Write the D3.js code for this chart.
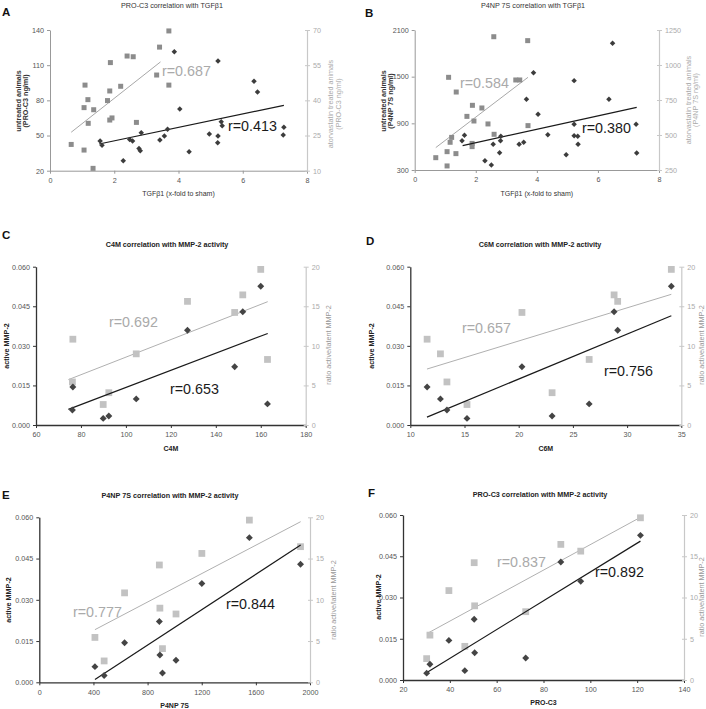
<!DOCTYPE html>
<html><head><meta charset="utf-8">
<script src="https://cdn.jsdelivr.net/npm/d3@7"></script>
<style>
body{margin:0;background:#fff;}
svg{display:block;font-family:"Liberation Sans",Arial,sans-serif;}
</style></head>
<body><svg id="chart" width="706" height="709"></svg>
<script>
// ---------- Panel A: PRO-C3 vs TGFb1 ----------
const aUntreatedX = [3.87,5.23,6.35,6.46,4.04,5.33,5.36,7.28,7.26,4.96,5.23,5.22,3.66,3.56,3.42,2.84,2.48,2.57,2.77,2.81,1.56,1.62,2.28,4.33];
const aUntreatedY = [121.5,113.6,96.2,87.1,72.6,61.8,58.4,57,50.4,51.3,49.6,43.9,55.3,49.6,46.2,52.4,46.7,45.3,39,37.1,45.3,41.6,28.5,36.2];
const aTreatedX = [3.70,3.41,2.40,2.59,1.88,3.32,1.09,2.20,3.70,1.86,1.18,1.79,1.06,1.36,1.93,1.86,1.19,2.69,0.66,1.06,1.34];
const aTreatedY = [69.6,62.7,58.9,58.6,56.1,50.8,46.5,46.0,46.5,44.0,40.3,39.9,36.9,36.0,32.5,31.6,30.2,30.6,21.2,18.8,11.0];
const aUntreatedFitX = [1.53,7.28], aUntreatedFitY = [42.8,75.7];
const aTreatedFitX = [0.66,3.44], aTreatedFitY = [26.4,56.4];
const aXTicks = [0,2,4,6,8], aLeftTicks = [20,50,80,110,140], aRightTicks = [10,25,40,55,70];

// ---------- Panel B: P4NP 7S vs TGFb1 ----------
const bUntreatedX = [6.48,3.89,5.22,6.36,3.66,4.04,5.22,7.25,4.36,5.22,5.34,5.35,1.63,2.82,1.55,2.81,2.57,3.57,3.42,2.78,4.96,7.27,2.30,2.51];
const bUntreatedY = [1929,1551,1449,1209,1209,1016,887,887,754,741,733,630,746,733,677,677,630,656,630,523,497,518,420,364];
const bTreatedX = [2.59,3.70,1.11,3.31,3.44,1.36,1.89,2.20,1.71,1.94,2.40,3.71,1.21,1.16,2.60,1.88,1.88,1.06,1.35,0.69,1.06];
const bTreatedY = [1202,1174,912,893,893,807,712,693,633,600,579,567,483,448,505,440,417,381,367,338,279];
const bUntreatedFitX = [1.57,7.27], bUntreatedFitY = [613,1106];
const bTreatedFitX = [0.69,3.71], bTreatedFitY = [410,912];
const bXTicks = [0,2,4,6,8], bLeftTicks = [300,900,1500,2100], bRightTicks = [250,500,750,1000,1250];

// ---------- Panels C-F: MMP-2 activity (10 animals) ----------
const activeMMP2 = [0.0526,0.0429,0.0359,0.0221,0.0144,0.0099,0.0057,0.0080,0.0025,0.0034];
const ratioMMP2  = [19.66,16.44,15.62,14.22,10.84,8.99,5.44,8.28,2.59,4.08];
const c4m    = [160.0,152.0,127.4,148.4,76.4,104.6,76.2,163.0,89.9,92.4];
const c6m    = [34.08,28.8,29.13,20.3,11.55,12.78,13.38,26.5,15.23,23.08];
const p4np7s = [1552,1930,1201,887,630,891,411,1010,479,910];
const proC3  = [121.4,87.4,95.9,50.4,39.6,50.6,31.5,72.4,30.1,46.4];
const cFitX = [74.4,163.1], cFitActive = [0.0059,0.0347], cFitRatio = [5.73,15.58];
const dFitX = [11.54,34.08], dFitActive = [0.0030,0.0414], dFitRatio = [7.07,16.51];
const eFitX = [411,1931], eFitActive = [0.0010,0.0499], eFitRatio = [6.38,19.47];
const fFitX = [30.2,121.4], fFitActive = [0.0027,0.0505], fFitRatio = [5.62,19.72];
const mmpLeftTicks = [0,0.015,0.030,0.045,0.060], mmpRightTicks = [0,5,10,15,20];
const cXTicks = [60,80,100,120,140,160,180];
const dXTicks = [10,15,20,25,30,35];
const eXTicks = [0,400,800,1200,1600,2000];
const fXTicks = [20,40,60,80,100,120,140];

const rLabels = {A:["r=0.687","r=0.413"],B:["r=0.584","r=0.380"],C:["r=0.692","r=0.653"],D:["r=0.657","r=0.756"],E:["r=0.777","r=0.844"],F:["r=0.837","r=0.892"]};

const svg = d3.select("#chart");
const zip = (a,b)=>a.map((v,i)=>[v,b[i]]);

function panel(c){
  const g = svg.append("g");
  const x = d3.scaleLinear().domain(c.xDom).range([c.l,c.r]);
  const yL = d3.scaleLinear().domain(c.yLDom).range([c.b,c.t]);
  const yR = d3.scaleLinear().domain(c.yRDom).range([c.b,c.t]);
  const st = c.style;
  g.append("text").attr("x",c.letter[1]).attr("y",c.letter[2]).attr("font-size",11.5).attr("font-weight","bold").attr("fill","#111").text(c.letter[0]);
  g.append("text").attr("x",c.title[1]).attr("y",c.title[2]).attr("text-anchor","middle").attr("font-size",st.titleSize).attr("font-weight",st.titleWeight).attr("fill",st.titleColor).text(c.title[0]);
  const ax = g.append("g").attr("transform",`translate(0,${c.b})`).call(d3.axisBottom(x).tickValues(c.xTicks).tickSize(st.tick).tickSizeOuter(0).tickFormat(d3.format("d")));
  const al = g.append("g").attr("transform",`translate(${c.l},0)`).call(d3.axisLeft(yL).tickValues(c.yLTicks).tickSize(st.tick).tickSizeOuter(0).tickFormat(c.yLFmt));
  const ar = g.append("g").attr("transform",`translate(${c.r},0)`).call(d3.axisRight(yR).tickValues(c.yRTicks).tickSize(3).tickSizeOuter(0).tickFormat(d3.format("d")));
  [ax,al].forEach(a=>{a.select(".domain").attr("stroke",st.axisColor).attr("stroke-width",st.axisW);
    a.selectAll(".tick line").attr("stroke",st.axisColor);
    a.selectAll(".tick text").attr("fill",st.tickColor).attr("font-size",7.2).attr("font-family","Liberation Sans, Arial");});
  ax.selectAll(".tick text").attr("dy","0.9em");
  ar.select(".domain").attr("stroke",st.rAxisColor).attr("stroke-width",1.2);
  ar.selectAll(".tick line").attr("stroke",st.rAxisColor).attr("x1",-2);
  ar.selectAll(".tick text").attr("fill",st.rTickColor).attr("font-size",7.2).attr("font-family","Liberation Sans, Arial");
  g.append("text").attr("x",(c.l+c.r)/2).attr("y",c.xTitleY).attr("text-anchor","middle").attr("font-size",7).attr("font-weight",st.xTitleWeight).attr("fill",st.titleColor).text(c.xTitle);
  c.lTitle.forEach((t,i)=>g.append("text").attr("transform",`translate(${c.lTitleX[i]},${c.lTitleCY}) rotate(-90)`).attr("text-anchor","middle").attr("dy","0.35em").attr("font-size",7.2).attr("font-weight","bold").attr("fill",st.lTitleColor).text(t));
  c.rTitle.forEach((t,i)=>g.append("text").attr("transform",`translate(${c.rTitleX[i]},${c.rTitleCY}) rotate(-90)`).attr("text-anchor","middle").attr("dy","0.35em").attr("font-size",7.2).attr("font-weight",st.rTitleWeight).attr("fill",st.rTitleColor).text(t));
  const line = (ys)=>d3.line().x(d=>x(d[0])).y(d=>ys(d[1]));
  g.append("path").datum(zip(c.grayFitX,c.grayFitY)).attr("d",line(yR)).attr("stroke",st.grayLine).attr("stroke-width",1).attr("fill","none");
  const sq = d3.symbol().type(d3.symbolSquare).size(st.sqSize)();
  g.selectAll(null).data(zip(c.grayX,c.grayY)).join("path").attr("d",sq)
    .attr("transform",d=>`translate(${x(d[0])},${yR(d[1])})`).attr("fill",st.sqColor);
  g.append("path").datum(zip(c.darkFitX,c.darkFitY)).attr("d",line(yL)).attr("stroke","#1a1a1a").attr("stroke-width",1.2).attr("fill","none");
  const dm = d3.symbol().type(d3.symbolSquare).size(st.dmSize)();
  g.selectAll(null).data(zip(c.darkX,c.darkY)).join("path").attr("d",dm)
    .attr("transform",d=>`translate(${x(d[0])},${yL(d[1])}) rotate(45)`).attr("fill",st.dmColor);
  g.append("text").attr("x",c.rGray[0]).attr("y",c.rGray[1]).attr("font-size",14.3).attr("fill",st.rGrayColor).text(rLabels[c.letter[0]][0]);
  g.append("text").attr("x",c.rDark[0]).attr("y",c.rDark[1]).attr("font-size",14.3).attr("fill","#1a1a1a").text(rLabels[c.letter[0]][1]);
}

const styleTop = {titleSize:7.2,titleWeight:"normal",titleColor:"#333",tick:3,axisColor:"#999",axisW:1,tickColor:"#555",
  rAxisColor:"#c8c8c8",rTickColor:"#aaa",xTitleWeight:"normal",lTitleColor:"#333",rTitleWeight:"normal",rTitleColor:"#aaa",
  grayLine:"#a8a8a8",sqSize:25,sqColor:"#8c8c8c",dmSize:15,dmColor:"#3c3c3c",rGrayColor:"#aaa"};
const styleBot = {titleSize:7.2,titleWeight:"bold",titleColor:"#222",tick:3,axisColor:"#333",axisW:1.3,tickColor:"#555",
  rAxisColor:"#c8c8c8",rTickColor:"#aaa",xTitleWeight:"bold",lTitleColor:"#222",rTitleWeight:"normal",rTitleColor:"#999",
  grayLine:"#b0b0b0",sqSize:46,sqColor:"#c2c2c2",dmSize:24,dmColor:"#444",rGrayColor:"#aaa"};

panel({style:styleTop,letter:["A",2,16],title:["PRO-C3 correlation with TGFβ1",172,7.5],
  l:50,r:307,t:30,b:170.7,xDom:[0,8],yLDom:[20,140],yRDom:[10,70],xTicks:aXTicks,yLTicks:aLeftTicks,yRTicks:aRightTicks,yLFmt:d3.format("d"),
  xTitle:"TGFβ1 (x-fold to sham)",xTitleY:195.5,lTitle:["untreated animals","(PRO-C3 ng/ml)"],lTitleX:[18.5,25.5],lTitleCY:101,
  rTitle:["atorvastatin treated animals","(PRO-C3 ng/ml)"],rTitleX:[330,338],rTitleCY:104,
  darkX:aUntreatedX,darkY:aUntreatedY,grayX:aTreatedX,grayY:aTreatedY,darkFitX:aUntreatedFitX,darkFitY:aUntreatedFitY,grayFitX:aTreatedFitX,grayFitY:aTreatedFitY,
  rGray:[162,75.5],rDark:[228,130.5]});

panel({style:styleTop,letter:["B",365,17],title:["P4NP 7S correlation with TGFβ1",533,7.5],
  l:414.7,r:659,t:30,b:170,xDom:[0,8],yLDom:[300,2100],yRDom:[250,1250],xTicks:bXTicks,yLTicks:bLeftTicks,yRTicks:bRightTicks,yLFmt:d3.format("d"),
  xTitle:"TGFβ1 (x-fold to sham)",xTitleY:195.5,lTitle:["untreated animals","(P4NP 7S ng/ml)"],lTitleX:[383,390],lTitleCY:101,
  rTitle:["atorvastatin treated animals","(P4NP 7S ng/ml)"],rTitleX:[688,695],rTitleCY:100,
  darkX:bUntreatedX,darkY:bUntreatedY,grayX:bTreatedX,grayY:bTreatedY,darkFitX:bUntreatedFitX,darkFitY:bUntreatedFitY,grayFitX:bTreatedFitX,grayFitY:bTreatedFitY,
  rGray:[460,88],rDark:[582,133]});

const mmpCommon = {style:styleBot,yLDom:[0,0.06],yRDom:[0,20],yLTicks:mmpLeftTicks,yRTicks:mmpRightTicks,yLFmt:d3.format(".3f"),
  lTitle:["active MMP-2"],rTitle:["ratio active/latent MMP-2"],darkY:activeMMP2,grayY:ratioMMP2};

panel(Object.assign({},mmpCommon,{letter:["C",2,238.5],title:["C4M correlation with MMP-2 activity",167,246.5],
  l:36,r:305.7,t:266.7,b:425,xDom:[60,180],xTicks:cXTicks,xTitle:"C4M",xTitleY:451,lTitleX:[6],lTitleCY:346,rTitleX:[328],rTitleCY:345,
  darkX:c4m,grayX:c4m,darkFitX:cFitX,darkFitY:cFitActive,grayFitX:cFitX,grayFitY:cFitRatio,rGray:[109,326.5],rDark:[170,394]}));

panel(Object.assign({},mmpCommon,{letter:["D",366,245],title:["C6M correlation with MMP-2 activity",540,246.5],
  l:410.3,r:681.3,t:266.7,b:425,xDom:[10,35],xTicks:dXTicks,xTitle:"C6M",xTitleY:450.5,lTitleX:[371.3],lTitleCY:346,rTitleX:[701],rTitleCY:345,
  darkX:c6m,grayX:c6m,darkFitX:dFitX,darkFitY:dFitActive,grayFitX:dFitX,grayFitY:dFitRatio,rGray:[462,333],rDark:[604,375.5]}));

panel(Object.assign({},mmpCommon,{letter:["E",2,498.5],title:["P4NP 7S correlation with MMP-2 activity",170,497.5],
  l:39.3,r:310,t:517.3,b:682.3,xDom:[0,2000],xTicks:eXTicks,xTitle:"P4NP 7S",xTitleY:707.5,lTitleX:[8.3],lTitleCY:600,rTitleX:[333],rTitleCY:600,
  darkX:p4np7s,grayX:p4np7s,darkFitX:eFitX,darkFitY:eFitActive,grayFitX:eFitX,grayFitY:eFitRatio,rGray:[73,617],rDark:[226,609]}));

panel(Object.assign({},mmpCommon,{letter:["F",368,497],title:["PRO-C3 correlation with MMP-2 activity",540,496.5],
  l:403,r:684,t:515,b:680,xDom:[20,140],xTicks:fXTicks,xTitle:"PRO-C3",xTitleY:705,lTitleX:[378],lTitleCY:597,rTitleX:[701],rTitleCY:597,
  darkX:proC3,grayX:proC3,darkFitX:fFitX,darkFitY:fFitActive,grayFitX:fFitX,grayFitY:fFitRatio,rGray:[497,566.5],rDark:[595,576.5]}));
</script></body></html>
